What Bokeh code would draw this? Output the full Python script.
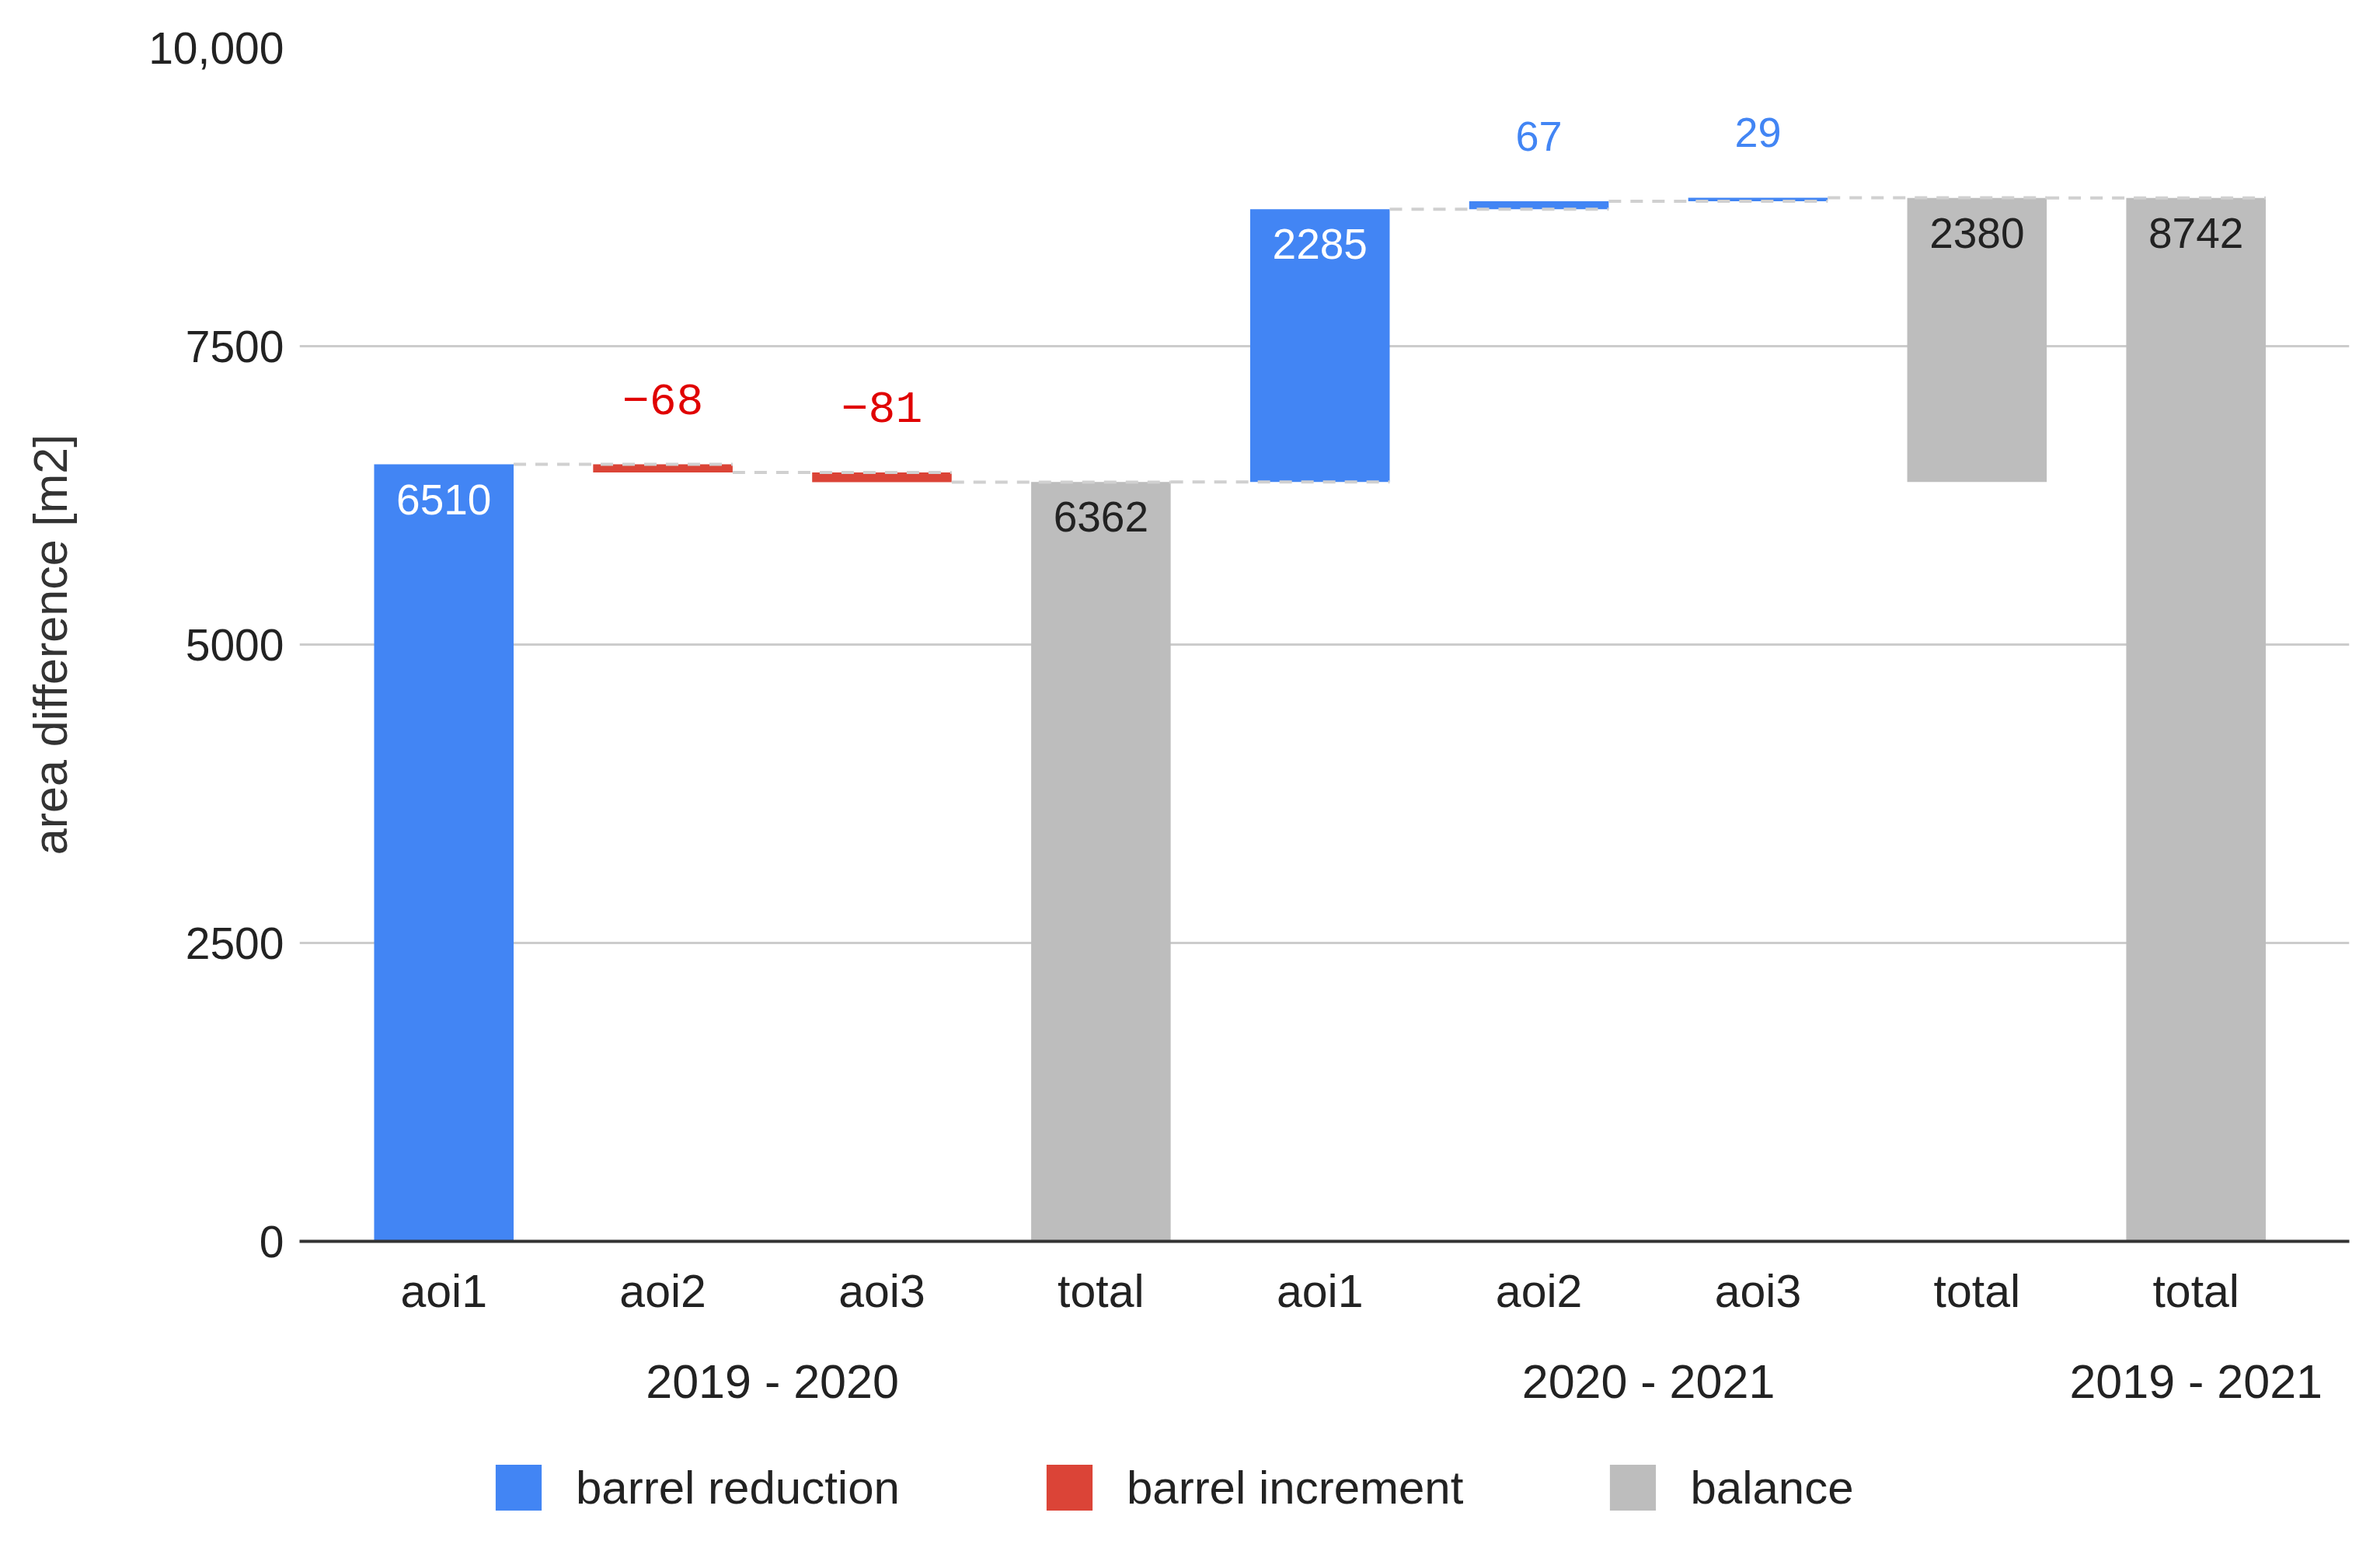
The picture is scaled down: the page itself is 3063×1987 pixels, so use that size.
from bokeh.plotting import figure
from bokeh.layouts import column
from bokeh.models import Range1d, FixedTicker, LinearAxis, Legend, LegendItem, ColumnDataSource
from bokeh.core.properties import value
from bokeh.embed import file_html
from bokeh.resources import INLINE

# ---------------- data ----------------
periods = ["2019 - 2020", "2019 - 2020", "2019 - 2020", "2019 - 2020",
           "2020 - 2021", "2020 - 2021", "2020 - 2021", "2020 - 2021",
           "2019 - 2021"]
categories = ["aoi1", "aoi2", "aoi3", "total", "aoi1", "aoi2", "aoi3", "total", "total"]
values = [6510, -68, -81, 6362, 2285, 67, 29, 2380, 8742]
kinds = ["barrel reduction", "barrel increment", "barrel increment", "balance",
         "barrel reduction", "barrel reduction", "barrel reduction", "balance", "balance"]
period_labels = ["2019 - 2020", "2020 - 2021", "2019 - 2021"]
legend_names = ["barrel reduction", "barrel increment", "balance"]
y_ticks = [0, 2500, 5000, 7500, 10000]
y_tick_labels = ["0", "2500", "5000", "7500", "10,000"]

# ---------------- styles ----------------
FONT = "Liberation Sans"
colors = {"barrel reduction": "#4285f4", "barrel increment": "#db4437", "balance": "#bdbdbd"}
above_colors = {"barrel reduction": "#4285f4", "barrel increment": "#e00000", "balance": "#222222"}
inside_colors = {"barrel reduction": "#ffffff", "barrel increment": "#ffffff", "balance": "#222222"}
BAR_W = 0.637
W = 3040
H_MAIN = 1840
H_LEG = 131

# ---------------- waterfall geometry from data ----------------
xs = list(range(len(categories)))
level_at = {}
bottoms, tops, ends = [], [], []
cur = None
running = 0
for per, kind, v in zip(periods, kinds, values):
    start, end = per.split(" - ")
    base = level_at.get(start, 0)
    if per != cur:
        running = base
        cur = per
    if kind == "balance":
        b, t = base, base + v
        running = t
        level_at[end] = t
    else:
        b, t = running, running + v
        running = t
    bottoms.append(min(b, t))
    tops.append(max(b, t))
    ends.append(running)

def kind_source(k):
    idx = [i for i, kk in enumerate(kinds) if kk == k]
    return ColumnDataSource(dict(x=[xs[i] for i in idx], bottom=[bottoms[i] for i in idx],
                                 top=[tops[i] for i in idx]))

p = figure(width=W, height=H_MAIN, output_backend="svg", toolbar_location=None,
           x_range=Range1d(-0.659, 8.70), y_range=Range1d(0, 10000),
           min_border_left=385, min_border_right=17, min_border_top=61,
           min_border_bottom=H_MAIN - 1597)
p.outline_line_color = None
p.background_fill_color = "white"

# bars
for k in legend_names:
    p.vbar(x="x", width=BAR_W, bottom="bottom", top="top", source=kind_source(k),
           fill_color=colors[k], line_color=None)

# connectors (dashed)
cx0 = [xs[i] + BAR_W / 2 for i in range(len(xs) - 1)]
cx1 = [xs[i + 1] + BAR_W / 2 for i in range(len(xs) - 1)]
cy = ends[:-1]
p.segment(x0=cx0, x1=cx1, y0=cy, y1=cy, line_color="#d0d0d0", line_width=4, line_dash="16 12")

# value labels
def fmt(v):
    return ("\u2212" + str(abs(v))) if v < 0 else str(v)

inside = dict(x=[], y=[], text=[], color=[])
above_pos = dict(x=[], y=[], text=[], color=[])
above_neg = dict(x=[], y=[], text=[], color=[])
for i, v in enumerate(values):
    if abs(v) >= 1000:
        d = inside
        c = inside_colors[kinds[i]]
    else:
        d = above_neg if v < 0 else above_pos
        c = above_colors[kinds[i]]
    d["x"].append(xs[i]); d["y"].append(tops[i]); d["text"].append(fmt(v)); d["color"].append(c)

p.text(x="x", y="y", text="text", text_color="color", source=ColumnDataSource(inside),
       text_font=value(FONT), text_font_size="55px", text_align="center",
       text_baseline="middle", y_offset=45)
p.text(x="x", y="y", text="text", text_color="color", source=ColumnDataSource(above_pos),
       text_font=value(FONT), text_font_size="54px", text_align="center",
       text_baseline="middle", y_offset=-84)
p.text(x="x", y="y", text="text", text_color="color", source=ColumnDataSource(above_neg),
       text_font=value("Liberation Mono"), text_font_size="58px", text_align="center",
       text_baseline="middle", y_offset=-84)

# grid
p.xgrid.grid_line_color = None
p.ygrid.ticker = FixedTicker(ticks=y_ticks)
p.ygrid.grid_line_color = "#cccccc"
p.ygrid.grid_line_width = 3

# y axis
ya = p.yaxis[0]
ya.ticker = FixedTicker(ticks=y_ticks)
ya.major_label_overrides = {t: l for t, l in zip(y_ticks, y_tick_labels)}
ya.axis_line_color = None
ya.major_tick_line_color = None
ya.minor_tick_line_color = None
ya.major_tick_out = 0
ya.major_tick_in = 0
ya.major_label_standoff = 20
ya.major_label_text_font = FONT
ya.major_label_text_font_size = "57px"
ya.major_label_text_color = "#222222"
ya.axis_label = "area difference [m2]"
ya.axis_label_text_font = FONT
ya.axis_label_text_font_size = "61px"
ya.axis_label_text_font_style = "normal"
ya.axis_label_text_color = "#333333"
ya.axis_label_standoff = 89

# x axis (categories)
xa = p.xaxis[0]
xa.ticker = FixedTicker(ticks=xs)
xa.major_label_overrides = {x: c for x, c in zip(xs, categories)}
xa.axis_line_color = "#333333"
xa.axis_line_width = 4
xa.major_tick_line_color = None
xa.minor_tick_line_color = None
xa.major_tick_out = 0
xa.major_tick_in = 0
xa.major_label_standoff = 31
xa.major_label_text_font = FONT
xa.major_label_text_font_size = "59px"
xa.major_label_text_color = "#222222"

# second x axis (periods)
centers = []
for pl_name in period_labels:
    idx = [x for x, per in zip(xs, periods) if per == pl_name]
    centers.append(sum(idx) / len(idx))
xa2 = LinearAxis(ticker=FixedTicker(ticks=centers),
                 major_label_overrides={c: l for c, l in zip(centers, period_labels)})
xa2.axis_line_color = None
xa2.major_tick_line_color = None
xa2.minor_tick_line_color = None
xa2.major_tick_out = 0
xa2.major_tick_in = 0
xa2.major_label_standoff = 46
xa2.major_label_text_font = FONT
xa2.major_label_text_font_size = "61px"
xa2.major_label_text_color = "#222222"
p.add_layout(xa2, "below")

# ---------------- legend strip (same bars, kept out of its view) ----------------
pl = figure(width=W, height=H_LEG, output_backend="svg", toolbar_location=None,
            x_range=Range1d(-0.659, 8.70), y_range=Range1d(20000, 30000),
            min_border_left=0, min_border_right=0, min_border_top=0, min_border_bottom=0)
pl.axis.visible = False
pl.grid.visible = False
pl.outline_line_color = None
leg_renderers = [pl.vbar(x="x", width=BAR_W, bottom="bottom", top="top", source=kind_source(k),
                         fill_color=colors[k], line_color=None)
                 for k in legend_names]
legend = Legend(items=[LegendItem(label=k, renderers=[r]) for k, r in zip(legend_names, leg_renderers)],
                orientation="horizontal", location=(245, 20),
                glyph_width=74, glyph_height=74, label_standoff=37, spacing=181,
                label_text_font=FONT, label_text_font_size="60px", label_text_color="#222222",
                border_line_color=None, background_fill_alpha=0, padding=0, margin=0)
pl.add_layout(legend, "center")

open("out.html", "w").write(file_html(column(p, pl, spacing=0), INLINE))
